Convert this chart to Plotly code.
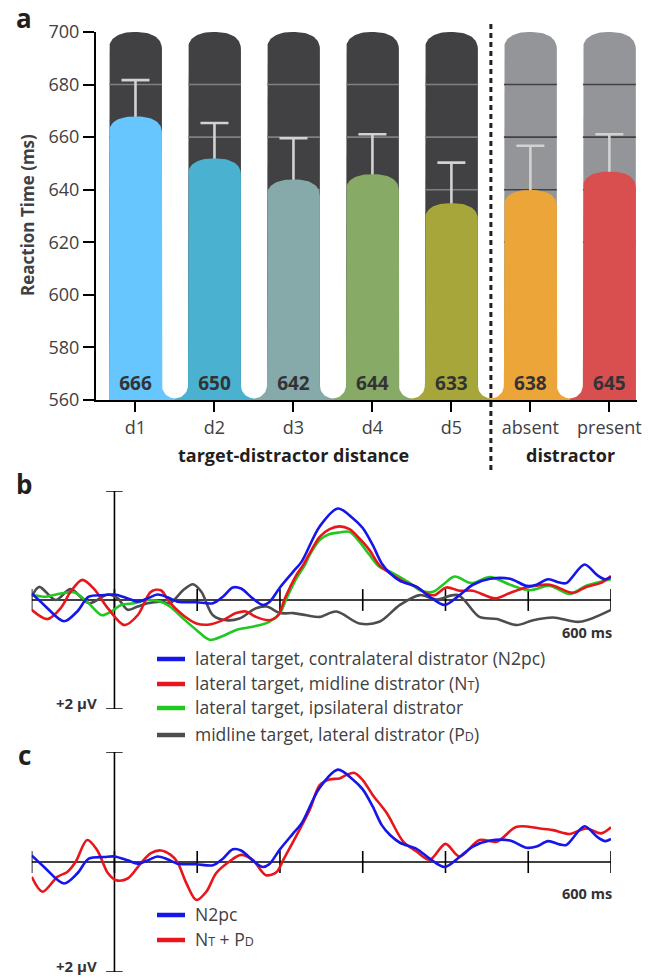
import numpy as np
import plotly.graph_objects as go

W, H = 652, 978
FONT = "Open Sans"
TXT = "#414042"
INK = "#231f20"

# ---------------- Panel a data ----------------
categories = ["d1", "d2", "d3", "d4", "d5", "absent", "present"]
rt_mean = [666, 650, 642, 644, 633, 638, 645]
rt_err = [15.7, 15.4, 17.6, 17.1, 17.3, 18.7, 16.1]
bar_colors = ["#66c6fd", "#4ab2d0", "#86a9a9", "#87aa66", "#a7a63a", "#eba539", "#d94f4f"]
bg_colors = ["#414042"] * 5 + ["#939598"] * 2
grid_colors = ["#808082"] * 5 + ["#414042"] * 2
y_ticks = [560, 580, 600, 620, 640, 660, 680, 700]
grid_vals = [620, 640, 660, 680]
y_min, y_max = 560, 700

# ---------------- Panel b / c data (time in ms, amplitude in µV; negative plotted up) ----------------
t_n2pc = [-100, -85, -61, -45, -31, -12, 0, 16, 28, 40, 52, 64, 76, 83, 99, 119, 131, 143, 153,
          167, 179, 187, 200, 216, 226, 248, 270, 288, 300, 312, 323, 333, 345, 365, 381, 399,
          417, 433, 454, 478, 498, 510, 524, 538, 546, 568, 583, 593, 600]
v_n2pc = [-0.12, 0.09, 0.39, 0.21, -0.06, -0.09, -0.10, -0.03, 0.03, -0.03, -0.10, -0.05, 0.03,
          0.04, 0.04, 0.06, -0.06, -0.23, -0.21, -0.03, 0.09, 0.04, -0.23, -0.52, -0.70, -1.35,
          -1.68, -1.50, -1.32, -1.01, -0.67, -0.49, -0.35, -0.24, -0.06, 0.09, -0.09, -0.28,
          -0.39, -0.39, -0.26, -0.28, -0.38, -0.32, -0.31, -0.65, -0.46, -0.38, -0.42]

t_nt = [-100, -81, -65, -53, -39, -25, -8, 12, 28, 44, 56, 67, 83, 99, 115, 131, 147, 159, 171,
        187, 198, 206, 220, 228, 236, 248, 260, 272, 284, 296, 308, 320, 333, 349, 365, 377, 387,
        401, 417, 433, 460, 478, 498, 526, 554, 570, 587, 600]
v_nt = [0.18, 0.35, 0.15, -0.15, -0.37, -0.21, 0.15, 0.46, 0.28, -0.15, -0.18, 0.05, 0.28, 0.43,
        0.45, 0.37, 0.24, 0.21, 0.31, 0.37, 0.28, -0.03, -0.46, -0.64, -0.86, -1.16, -1.30,
        -1.35, -1.30, -1.13, -0.92, -0.64, -0.49, -0.34, -0.24, -0.12, -0.09, -0.23, -0.17,
        -0.17, -0.03, -0.13, -0.23, -0.28, -0.13, -0.24, -0.31, -0.44]

t_ipsi = [-100, -85, -65, -49, -33, -15, -4, 8, 24, 40, 56, 67, 83, 99, 115, 131, 147, 167, 187,
          200, 208, 220, 230, 236, 248, 260, 272, 284, 296, 308, 320, 333, 345, 357, 369, 385,
          397, 411, 431, 454, 478, 502, 526, 550, 570, 600]
v_ipsi = [-0.10, -0.06, -0.12, -0.14, 0.03, 0.28, 0.21, 0.09, 0.06, 0.00, 0.03, 0.12, 0.34, 0.55,
          0.73, 0.66, 0.55, 0.49, 0.40, 0.24, -0.03, -0.40, -0.64, -0.83, -1.10, -1.21, -1.24,
          -1.25, -1.07, -0.83, -0.61, -0.52, -0.42, -0.31, -0.18, -0.15, -0.28, -0.43, -0.31,
          -0.42, -0.28, -0.18, -0.26, -0.11, -0.26, -0.38]

t_pd = [-100, -91, -71, -53, -31, -8, 4, 16, 28, 40, 56, 67, 83, 95, 105, 119, 135, 151, 171,
        184, 200, 216, 232, 248, 268, 296, 320, 345, 369, 389, 415, 441, 462, 486, 506, 530, 562,
        600]
v_pd = [-0.06, -0.24, 0.00, -0.20, 0.06, -0.10, -0.03, 0.18, 0.12, 0.06, 0.03, 0.06, -0.18,
        -0.29, -0.15, 0.28, 0.37, 0.34, 0.15, 0.12, 0.24, 0.24, 0.28, 0.31, 0.21, 0.43, 0.40,
        0.09, -0.09, -0.01, -0.09, 0.31, 0.35, 0.46, 0.37, 0.32, 0.40, 0.18]

t_ntpd = [-100, -87, -69, -57, -47, -33, -21, -8, 2, 16, 32, 44, 56, 68, 76, 87, 99, 111, 123,
          139, 153, 167, 183, 196, 204, 216, 236, 248, 260, 272, 280, 290, 300, 312, 329, 349,
          365, 381, 400, 417, 441, 462, 486, 514, 530, 550, 570, 588, 600]
v_ntpd = [0.27, 0.54, 0.27, 0.18, 0.00, -0.40, -0.22, 0.20, 0.33, 0.30, 0.02, -0.16, -0.21,
          -0.13, 0.00, 0.39, 0.69, 0.54, 0.20, -0.01, -0.13, -0.04, 0.24, 0.18, -0.04, -0.37,
          -0.95, -1.40, -1.50, -1.52, -1.58, -1.62, -1.49, -1.22, -0.89, -0.37, -0.19, -0.04,
          -0.33, -0.10, -0.40, -0.37, -0.64, -0.61, -0.58, -0.51, -0.61, -0.52, -0.63]

erp_ticks = [-100, 0, 100, 200, 300, 400, 500, 600]

BLUE, RED, GREEN, GRAY = "#1616e8", "#e8161b", "#22c822", "#4d4d4f"

fig = go.Figure()

# ---------------- Panel a drawing helpers ----------------
HW = 0.335      # half bar width (category units)
G = 0.165       # half gap
RY_GAP = 4.95   # vertical radius of rounded gap bottom (ms)


def cap_points(xc, edge, cap_h, n=40, p=2.4):
    th = np.linspace(np.pi, 0, n)
    c, s = np.cos(th), np.sin(th)
    xs = xc + HW * np.sign(c) * np.abs(c) ** (2 / p)
    ys = edge + cap_h * np.abs(s) ** (2 / p)
    return list(xs), list(ys)


def bar_polygon(i, top, cap_h, flare_left, flare_right):
    xs, ys = [], []
    if flare_left:
        cx, cy = i - HW - G, y_min + 0.6 + RY_GAP
        xs.append(cx); ys.append(y_min)
        for th in np.linspace(-np.pi / 2, 0, 14):
            xs.append(cx + G * np.cos(th)); ys.append(cy + RY_GAP * np.sin(th))
    else:
        xs.append(i - HW); ys.append(y_min)
    cx_, cy_ = cap_points(i, top - cap_h, cap_h)
    xs.append(i - HW); ys.append(top - cap_h)
    xs += cx_; ys += cy_
    if flare_right:
        cx, cy = i + HW + G, y_min + 0.6 + RY_GAP
        for th in np.linspace(np.pi, 1.5 * np.pi, 14):
            xs.append(cx + G * np.cos(th)); ys.append(cy + RY_GAP * np.sin(th))
        xs.append(cx); ys.append(y_min)
    else:
        xs.append(i + HW); ys.append(y_min)
    xs.append(xs[0]); ys.append(ys[0])
    return xs, ys


n = len(categories)
# background bars
for i in range(n):
    xs, ys = bar_polygon(i, y_max, 6.8, False, False)
    fig.add_trace(go.Scatter(x=xs, y=ys, mode="lines", fill="toself", fillcolor=bg_colors[i],
                             line=dict(width=0), hoverinfo="skip", showlegend=False,
                             xaxis="x", yaxis="y"))
# grid lines inside background bars
for i in range(n):
    gx, gy = [], []
    for g in grid_vals:
        gx += [i - HW, i + HW, None]
        gy += [g, g, None]
    fig.add_trace(go.Scatter(x=gx, y=gy, mode="lines", line=dict(color=grid_colors[i], width=1.6),
                             hoverinfo="skip", showlegend=False, xaxis="x", yaxis="y"))
# error bars
fig.add_trace(go.Scatter(x=list(range(n)), y=rt_mean, mode="markers",
                         marker=dict(size=1, color="rgba(0,0,0,0)"),
                         error_y=dict(type="data", symmetric=False, array=rt_err,
                                      arrayminus=[0] * n, color="#d2d2d2", thickness=2.6, width=14),
                         hoverinfo="skip", showlegend=False, xaxis="x", yaxis="y"))
# coloured bars
for i in range(n):
    xs, ys = bar_polygon(i, rt_mean[i] + 1.9, 6.4, i > 0, i < n - 1)
    fig.add_trace(go.Scatter(x=xs, y=ys, mode="lines", fill="toself", fillcolor=bar_colors[i],
                             line=dict(width=0), hoverinfo="skip", showlegend=False,
                             xaxis="x", yaxis="y"))
# value labels
fig.add_trace(go.Scatter(x=list(range(n)), y=[565.6] * n, mode="text",
                         text=[f"<b>{v}</b>" for v in rt_mean], textposition="middle center",
                         textfont=dict(family=FONT, size=19, color="#333335"),
                         hoverinfo="skip", showlegend=False, cliponaxis=False,
                         xaxis="x", yaxis="y"))

# ---------------- Panels b and c ----------------
def erp(t, v, color, ax):
    fig.add_trace(go.Scatter(x=t, y=v, mode="lines", line=dict(color=color, width=2.6, shape="spline",
                                                               smoothing=0.9),
                             hoverinfo="skip", showlegend=False, xaxis="x" + ax, yaxis="y" + ax))


erp(t_pd, v_pd, GRAY, "2")
erp(t_ipsi, v_ipsi, GREEN, "2")
erp(t_nt, v_nt, RED, "2")
erp(t_n2pc, v_n2pc, BLUE, "2")
erp(t_ntpd, v_ntpd, RED, "3")
erp(t_n2pc, v_n2pc, BLUE, "3")

shapes = []
for ax in ["2", "3"]:
    xr, yr = "x" + ax, "y" + ax
    shapes.append(dict(type="line", xref=xr, yref=yr, x0=erp_ticks[0], x1=erp_ticks[-1], y0=0, y1=0,
                       line=dict(color="black", width=1.6), layer="below"))
    for tk in erp_ticks:
        shapes.append(dict(type="line", xref=xr, yref=yr, x0=tk, x1=tk, y0=-0.2, y1=0.2,
                           line=dict(color="black", width=1.6), layer="below"))
    shapes.append(dict(type="line", xref=xr, yref=yr, x0=0, x1=0, y0=-2, y1=2,
                       line=dict(color="black", width=1.6), layer="below"))
    for yy in (-2, 2):
        shapes.append(dict(type="line", xref=xr, yref=yr, x0=-10, x1=10, y0=yy, y1=yy,
                           line=dict(color="black", width=1.6), layer="below"))

# divider in panel a
shapes.append(dict(type="line", xref="x", yref="paper", x0=4.5, x1=4.5, y0=1 - 470 / H, y1=1 - 21 / H,
                   line=dict(color=INK, width=3, dash="5px,4px")))


def px_x(p):
    return p / W


def px_y(p):
    return 1 - p / H


anns = []


def ann(text, x, y, size, color=TXT, xanchor="center", yanchor="middle", angle=0):
    anns.append(dict(text=text, x=px_x(x), y=px_y(y), xref="paper", yref="paper", showarrow=False,
                     xanchor=xanchor, yanchor=yanchor, textangle=angle,
                     font=dict(family=FONT, size=size, color=color)))


# panel labels
ann("<b>a</b>", 24, 18, 26, INK)
ann("<b>b</b>", 24, 484, 26, INK)
ann("<b>c</b>", 24, 755, 26, INK)
# panel a titles
ann("<b>Reaction Time (ms)</b>", 27, 215, 17, TXT, angle=-90)
ann("<b>target-distractor distance</b>", 293, 455, 18, INK)
ann("<b>distractor</b>", 570, 455, 18, INK)

# panel b / c labels
ann("<b>+2 µV</b>", 99, 703, 15, "#333335", xanchor="right")
ann("<b>600 ms</b>", 614, 632, 14.5, "#333335", xanchor="right")
ann("<b>+2 µV</b>", 99, 966, 15, "#333335", xanchor="right")
ann("<b>600 ms</b>", 614, 893, 14.5, "#333335", xanchor="right")

SM = "<span style='font-size:12.5px'>{}</span>"
leg_b = [
    ("lateral target, contralateral distrator (N2pc)", BLUE, 659),
    ("lateral target, midline distrator (N" + SM.format("T") + ")", RED, 684),
    ("lateral target, ipsilateral distrator", GREEN, 708),
    ("midline target, lateral distrator (P" + SM.format("D") + ")", GRAY, 735),
]
leg_c = [
    ("N2pc", BLUE, 915),
    ("N" + SM.format("T") + " + P" + SM.format("D"), RED, 940),
]
for txt, col, yy in leg_b + leg_c:
    shapes.append(dict(type="line", xref="paper", yref="paper", x0=px_x(157), x1=px_x(185),
                       y0=px_y(yy), y1=px_y(yy), line=dict(color=col, width=4.5)))
    ann(txt, 193, yy - 1, 17.5, TXT, xanchor="left")

fig.update_layout(
    width=W, height=H, margin=dict(l=0, r=0, t=0, b=0, pad=0, autoexpand=False),
    paper_bgcolor="white", plot_bgcolor="rgba(0,0,0,0)",
    font=dict(family=FONT, color=TXT),
    showlegend=False,
    xaxis=dict(domain=[96 / W, 637 / W], range=[-0.5, 6.35], tickvals=list(range(n)),
               ticktext=categories, showline=True, linecolor="black", linewidth=2,
               ticks="outside", ticklen=10, tickwidth=2, tickcolor="black", showgrid=False,
               zeroline=False, tickfont=dict(family=FONT, size=18, color=TXT), anchor="y",
               fixedrange=True, automargin=False),
    yaxis=dict(domain=[1 - 400 / H, 1 - 32 / H], range=[y_min, y_max], tickvals=y_ticks,
               showline=True, linecolor="black", linewidth=2, ticks="outside", ticklen=11,
               tickwidth=2, tickcolor="black", showgrid=False, zeroline=False,
               tickfont=dict(family=FONT, size=18, color=TXT), anchor="x", fixedrange=True,
               automargin=False),
    xaxis2=dict(domain=[31.7 / W, 611 / W], range=[-100, 600], visible=False, anchor="y2"),
    yaxis2=dict(domain=[1 - 709 / H, 1 - 491 / H], range=[2, -2], visible=False, anchor="x2"),
    xaxis3=dict(domain=[31.7 / W, 611 / W], range=[-100, 600], visible=False, anchor="y3"),
    yaxis3=dict(domain=[1 - 972 / H, 1 - 752 / H], range=[2, -2], visible=False, anchor="x3"),
    shapes=shapes,
    annotations=anns,
)

fig.write_html("out.html", config={"responsive": False, "displayModeBar": False},
               post_script="document.body.style.margin='0';document.body.style.overflow='hidden';")
